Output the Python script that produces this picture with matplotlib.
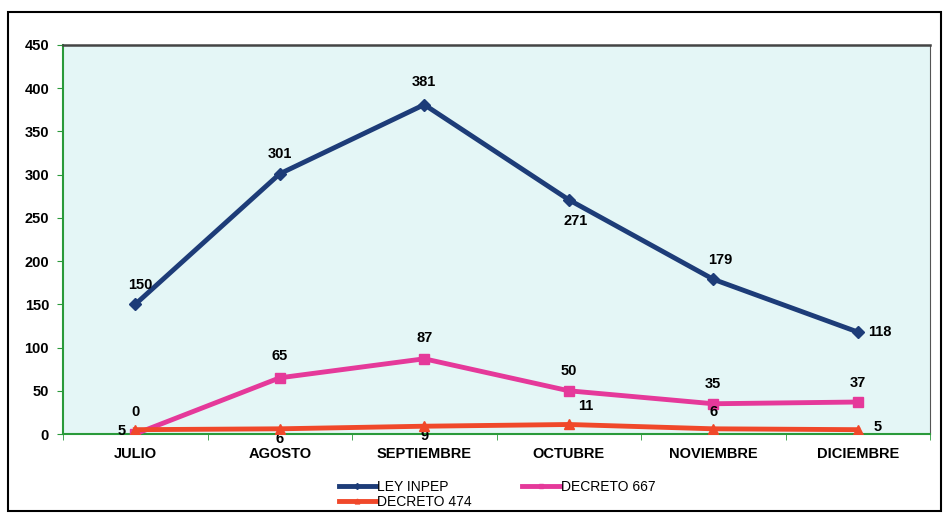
import matplotlib
matplotlib.use("Agg")
import matplotlib.pyplot as plt
from matplotlib.patches import Rectangle

months = ["JULIO", "AGOSTO", "SEPTIEMBRE", "OCTUBRE", "NOVIEMBRE", "DICIEMBRE"]
ley_inpep = [150, 301, 381, 271, 179, 118]
decreto_667 = [0, 65, 87, 50, 35, 37]
decreto_474 = [5, 6, 9, 11, 6, 5]

plt.rcParams['font.family'] = ['Liberation Sans', 'DejaVu Sans']

fig = plt.figure(figsize=(9.44, 5.15), dpi=100)
fig.patch.set_facecolor('white')
fig.patches.append(Rectangle((8/944, 1-511/515), 933/944, 499/515, transform=fig.transFigure,
                             fill=False, edgecolor='black', linewidth=1.5))

ax = fig.add_axes([63/944, 1-434/515, 867/944, 389/515])
ax.set_facecolor('#e4f6f6')

x = list(range(len(months)))
c_blue = '#1d3c78'
c_pink = '#e5399a'
c_red = '#f0482a'

l1, = ax.plot(x, ley_inpep, color=c_blue, lw=3.5, marker='D', ms=6, label='LEY INPEP', zorder=3)
l2, = ax.plot(x, decreto_667, color=c_pink, lw=3.5, marker='s', ms=7, label='DECRETO 667', zorder=3)
l3, = ax.plot(x, decreto_474, color=c_red, lw=3.5, marker='^', ms=7, label='DECRETO 474', zorder=4)

ax.set_xlim(-0.5, 5.5)
ax.set_ylim(0, 450)
ax.set_yticks(range(0, 451, 50))
ax.set_xticks(x)
ax.set_xticklabels(months)
ax.set_xticks([i + 0.5 for i in range(-1, 6)], minor=True)
ax.tick_params(axis='x', which='major', length=0, pad=9)
ax.tick_params(axis='x', which='minor', length=4, color='#2a9a3a', direction='out')
ax.tick_params(axis='y', length=4, color='#2a9a3a', direction='out', pad=6)
for lab in ax.get_xticklabels() + ax.get_yticklabels():
    lab.set_fontweight('bold')
    lab.set_fontsize(10.5)

ax.spines['left'].set_color('#2a9a3a')
ax.spines['bottom'].set_color('#2a9a3a')
ax.spines['left'].set_linewidth(1.5)
ax.spines['bottom'].set_linewidth(1.5)
ax.spines['top'].set_color('#444444')
ax.spines['right'].set_color('#555555')
ax.spines['top'].set_linewidth(1.8)

kw = dict(fontsize=10.5, fontweight='bold', textcoords='offset points', ha='center', va='center')
blue_off = [(4, 14), (0, 14), (0, 16), (5, -15), (5, 14), (16, 0)]
pink_off = [(0, 16), (0, 16), (0, 15), (0, 14), (0, 14), (0, 14)]
red_off = [(-10, -1), (0, -7), (0, -7), (12, 13), (0, 12), (14, 2)]
for xi, v, o in zip(x, ley_inpep, blue_off):
    ax.annotate(str(v), (xi, v), xytext=o, **kw)
for xi, v, o in zip(x, decreto_667, pink_off):
    ax.annotate(str(v), (xi, v), xytext=o, **kw)
for xi, v, o in zip(x, decreto_474, red_off):
    ax.annotate(str(v), (xi, v), xytext=o, **kw)

leg = fig.legend([l1, l3, l2], ['LEY INPEP', 'DECRETO 474', 'DECRETO 667'],
                 loc='lower left', bbox_to_anchor=(326/944, -6/515), ncol=2, frameon=False,
                 fontsize=10, handlelength=2.7, handletextpad=0.1, labelspacing=0.05,
                 columnspacing=3.6, markerscale=0.5)

fig.savefig('out.png', dpi=100)
